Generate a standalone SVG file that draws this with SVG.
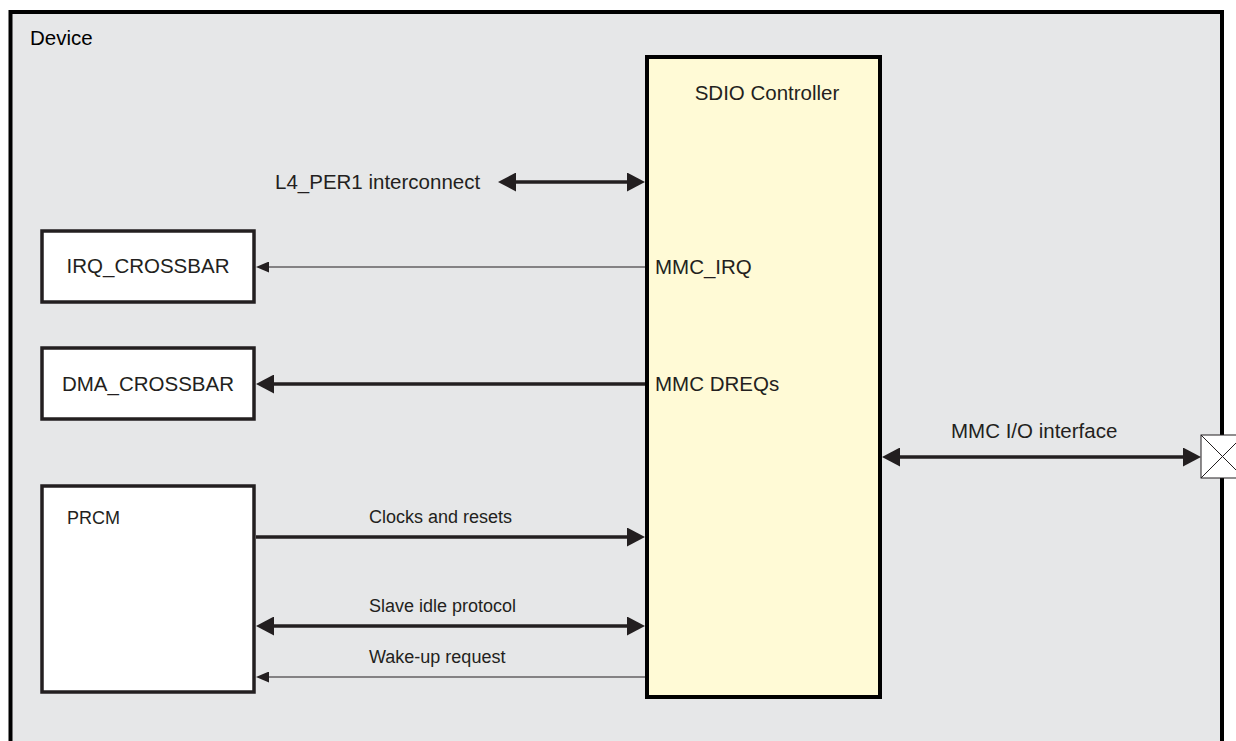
<svg xmlns="http://www.w3.org/2000/svg" width="1236" height="741" viewBox="0 0 1236 741">
<style>
text{font-family:"Liberation Sans",Arial,sans-serif;fill:#231f20}
.lg{font-size:20.5px}
.sm{font-size:18px}
.box{fill:#ffffff;stroke:#231f20;stroke-width:3.5}
.thick{stroke:#231f20;stroke-width:3.5;fill:none}
.thin{stroke:#231f20;stroke-width:1.2;fill:none}
</style>
<defs>
<marker id="ah" viewBox="0 0 18 19" markerWidth="18" markerHeight="19" markerUnits="userSpaceOnUse" refX="10" refY="9.5" orient="auto-start-reverse">
<path d="M0,0 L18,9.5 L0,19 z" fill="#231f20"/>
</marker>
<marker id="at" viewBox="0 0 13 11" markerWidth="13" markerHeight="11" markerUnits="userSpaceOnUse" refX="7" refY="5.5" orient="auto-start-reverse">
<path d="M0,0 L13,5.5 L0,11 z" fill="#231f20"/>
</marker>
</defs>
<rect x="0" y="0" width="1236" height="741" fill="#ffffff"/>
<g id="device">
<rect x="10.5" y="12" width="1211.5" height="760" fill="#e6e7e8" stroke="#000000" stroke-width="4"/>
<text class="lg" x="30" y="45" style="fill:#000">Device</text>
</g>
<g id="sdio">
<rect x="647" y="57" width="233" height="640" fill="#fffad6" stroke="#000000" stroke-width="4"/>
<text class="lg" x="767" y="100" text-anchor="middle">SDIO Controller</text>
<text class="lg" x="655" y="274">MMC_IRQ</text>
<text class="lg" x="655" y="391">MMC DREQs</text>
</g>
<g id="irq">
<rect class="box" x="42" y="231" width="212" height="71"/>
<text class="lg" x="148" y="273" text-anchor="middle">IRQ_CROSSBAR</text>
</g>
<g id="dma">
<rect class="box" x="42" y="348" width="212" height="71"/>
<text class="lg" x="148" y="391" text-anchor="middle">DMA_CROSSBAR</text>
</g>
<g id="prcm">
<rect class="box" x="42" y="486" width="212" height="206"/>
<text class="sm" x="67" y="524">PRCM</text>
</g>
<g id="pad">
<rect x="1201" y="435" width="43" height="43" fill="#ffffff" stroke="#231f20" stroke-width="1"/>
<path d="M1201,435 L1244,478 M1201,478 L1244,435" stroke="#231f20" stroke-width="1"/>
</g>
<g id="connectors">
<line class="thick" x1="506" y1="182" x2="637" y2="182" marker-start="url(#ah)" marker-end="url(#ah)"/>
<line class="thin" x1="645" y1="267" x2="262" y2="267" marker-end="url(#at)"/>
<line class="thick" x1="645" y1="384" x2="264" y2="384" marker-end="url(#ah)"/>
<line class="thick" x1="256" y1="537" x2="637" y2="537" marker-end="url(#ah)"/>
<line class="thick" x1="264" y1="626" x2="637" y2="626" marker-start="url(#ah)" marker-end="url(#ah)"/>
<line class="thin" x1="645" y1="677" x2="262" y2="677" marker-end="url(#at)"/>
<line class="thick" x1="890" y1="457" x2="1193" y2="457" marker-start="url(#ah)" marker-end="url(#ah)"/>
</g>
<g id="labels">
<text class="lg" x="275" y="189">L4_PER1 interconnect</text>
<text class="lg" x="951" y="438">MMC I/O interface</text>
<text class="sm" x="369" y="523">Clocks and resets</text>
<text class="sm" x="369" y="612">Slave idle protocol</text>
<text class="sm" x="369" y="663">Wake-up request</text>
</g>
</svg>
